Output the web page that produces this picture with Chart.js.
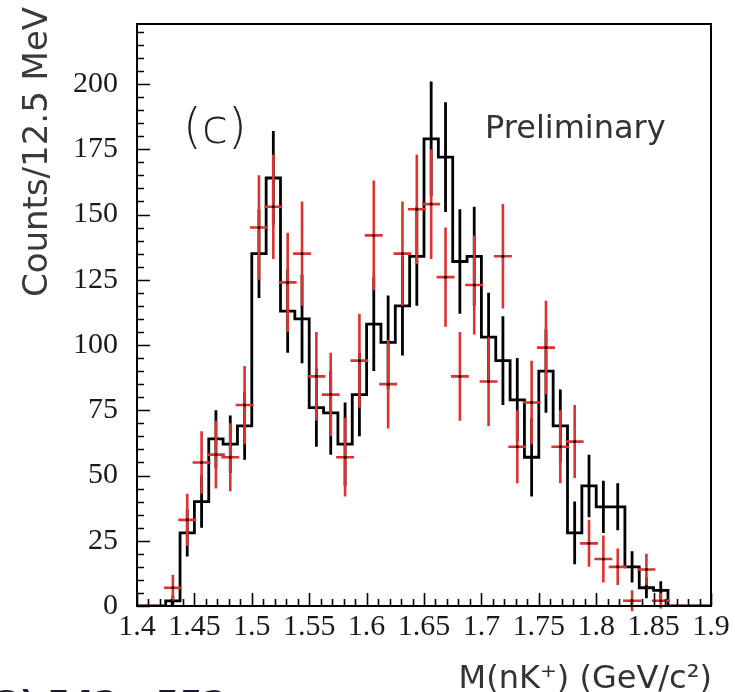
<!DOCTYPE html>
<html>
<head>
<meta charset="utf-8">
<script src="https://cdn.jsdelivr.net/npm/chart.js@4.4.1/dist/chart.umd.min.js"></script>
<style>
  html, body { margin: 0; padding: 0; background: #fff; }
  #wrap { width: 735px; height: 692px; }
</style>
</head>
<body>
<div id="wrap"><canvas id="chart" width="735" height="692"></canvas></div>
<script>
// M(nK+) histogram, 40 bins of 12.5 MeV from 1.4 to 1.9 GeV
const binStart = 1.4;
const binWidth = 0.0125;
const crossHalfWidth = 0.0078;

const blackCounts = [0, 0, 2, 28, 40, 64, 62, 69, 135, 164,
    113, 110, 76, 74, 62, 81, 108, 101, 115, 134,
    179, 172, 132, 134, 103, 94, 79, 57, 90, 69,
    28, 46, 38, 38, 15, 7, 6, 0, 0, 0];
const blackErrors = [0, 0, 2, 9, 10, 11, 11, 13, 17, 18,
    16, 17, 15, 16, 16, 16, 18, 18, 19, 19,
    22, 21, 20, 19, 17, 17, 16, 15, 16, 14,
    12, 12, 10, 9, 6, 4, 3.5, 0, 0, 0];

const redCounts = [0, 0, 7, 33, 55, 58, 57, 77, 145, 153,
    124, 135, 88, 81, 57, 94, 142, 85, 135, 152,
    154, 126, 88, 123, 86, 134, 61, 78, 99, 61,
    63, 24, 18, 15, 2, 14, 2, 0, 0, 0];
const redErrors = [0, 0, 5, 10, 12, 13, 13, 15, 20, 20,
    19, 20, 17, 16, 15, 18, 21, 17, 20, 21,
    21, 19, 17, 19, 17, 20, 14, 16, 18, 14,
    14, 9, 9, 7, 4, 6, 3, 0, 0, 0];

const xTicks = [1.4, 1.45, 1.5, 1.55, 1.6, 1.65, 1.7, 1.75, 1.8, 1.85, 1.9];
const yTicks = [0, 25, 50, 75, 100, 125, 150, 175, 200];

const RED = '#dc3232';

function binLo(i) { return +(binStart + i * binWidth).toFixed(5); }
function binMid(i) { return +(binStart + (i + 0.5) * binWidth).toFixed(5); }

// step outline: left edge of each bin, then closing point at 1.9
const histPts = blackCounts.map(function (v, i) { return { x: binLo(i), y: v }; });
histPts.push({ x: binLo(blackCounts.length), y: blackCounts[blackCounts.length - 1] });

function vBars(vals, errs) {
    const pts = [];
    vals.forEach(function (v, i) {
        if (!errs[i]) return;
        pts.push({ x: binMid(i), y: v - errs[i] });
        pts.push({ x: binMid(i), y: v + errs[i] });
        pts.push({ x: binMid(i), y: null });
    });
    return pts;
}

function hBars(vals, errs) {
    const pts = [];
    vals.forEach(function (v, i) {
        // empty bins: plain line across the bin, others: cross arm
        const lo = errs[i] ? binMid(i) - crossHalfWidth : binLo(i);
        const hi = errs[i] ? binMid(i) + crossHalfWidth : binLo(i + 1);
        pts.push({ x: lo, y: v });
        pts.push({ x: hi, y: v });
        pts.push({ x: binMid(i), y: null });
    });
    return pts;
}

const redCentres = [];
redCounts.forEach(function (v, i) {
    if (redErrors[i]) redCentres.push({ x: binMid(i), y: v });
});

const frame = {
    id: 'frame',
    afterDraw: function (chart) {
        const ctx = chart.ctx;
        const a = chart.chartArea;
        const xs = chart.scales.x, ys = chart.scales.y;
        ctx.save();
        ctx.strokeStyle = '#000';
        ctx.lineWidth = 2;
        ctx.strokeRect(a.left, a.top, a.right - a.left, a.bottom - a.top);

        // inner tick marks
        ctx.lineWidth = 1.6;
        ctx.beginPath();
        for (let v = 0; v <= 220; v += 5) {
            const py = Math.round(ys.getPixelForValue(v)) + 0.5;
            const len = v % 25 === 0 ? 13 : 7;
            ctx.moveTo(a.left, py);
            ctx.lineTo(a.left + len, py);
        }
        for (let k = 0; k <= 50; k++) {
            const px = Math.round(xs.getPixelForValue(1.4 + k * 0.01)) + 0.5;
            const len = k % 5 === 0 ? 13 : 7;
            ctx.moveTo(px, a.bottom);
            ctx.lineTo(px, a.bottom - len);
        }
        ctx.stroke();

        // labels
        ctx.fillStyle = '#222';
        ctx.font = '300 48px "DejaVu Sans"';
        ctx.textAlign = 'left';
        ctx.textBaseline = 'alphabetic';
        ctx.fillText('(c)', 183, 143);

        ctx.fillStyle = '#333';
        ctx.font = '32px "DejaVu Sans"';
        ctx.fillText('Preliminary', 485, 138);

        ctx.fillStyle = '#333';
        ctx.font = '32px "DejaVu Sans"';
        ctx.textAlign = 'right';
        ctx.fillText('M(nK\u207A) (GeV/c\u00B2)', 712, 688);

        ctx.fillStyle = '#1b1b2e';
        ctx.font = 'bold 34px "DejaVu Sans"';
        ctx.textAlign = 'left';
        ctx.fillText('3) 542 - 552', -4, 715);

        ctx.save();
        ctx.translate(47, 152);
        ctx.rotate(-Math.PI / 2);
        ctx.fillStyle = '#3a3a3a';
        ctx.font = '34px "DejaVu Sans"';
        ctx.textAlign = 'center';
        ctx.fillText('Counts/12.5 MeV', 0, 0);
        ctx.restore();

        ctx.restore();
    }
};

new Chart(document.getElementById('chart'), {
    type: 'line',
    data: {
        datasets: [
            {
                data: redCentres,
                showLine: false,
                pointRadius: 1.5,
                pointBackgroundColor: '#000',
                pointBorderWidth: 0,
                order: 0
            },
            {
                data: hBars(redCounts, redErrors),
                borderColor: RED,
                borderWidth: 2.6,
                pointRadius: 0,
                spanGaps: false,
                order: 1
            },
            {
                data: vBars(redCounts, redErrors),
                borderColor: RED,
                borderWidth: 2.6,
                pointRadius: 0,
                spanGaps: false,
                clip: 6,
                order: 2
            },
            {
                data: vBars(blackCounts, blackErrors),
                borderColor: '#000',
                borderWidth: 2.8,
                pointRadius: 0,
                spanGaps: false,
                order: 3
            },
            {
                data: histPts,
                stepped: true,
                borderColor: '#000',
                borderWidth: 2.8,
                pointRadius: 0,
                order: 4
            }
        ]
    },
    options: {
        responsive: false,
        animation: false,
        layout: { padding: { top: 24, right: 24, left: 0, bottom: 0 } },
        plugins: {
            legend: { display: false },
            tooltip: { enabled: false }
        },
        scales: {
            x: {
                type: 'linear',
                min: 1.4,
                max: 1.9,
                grid: { display: false, drawTicks: false },
                border: { display: false },
                afterBuildTicks: function (s) { s.ticks = xTicks.map(function (v) { return { value: v }; }); },
                afterFit: function (s) { s.height = 86; s.paddingLeft = 0; s.paddingRight = 0; },
                ticks: {
                    padding: 3,
                    maxRotation: 0,
                    autoSkip: false,
                    color: '#1a1a1a',
                    font: { family: '"Liberation Serif"', size: 30 },
                    callback: function (v) { return String(+v.toFixed(2)); }
                }
            },
            y: {
                min: 0,
                max: 223,
                grid: { display: false, drawTicks: false },
                border: { display: false },
                afterBuildTicks: function (s) { s.ticks = yTicks.map(function (v) { return { value: v }; }); },
                afterFit: function (s) { s.width = 137; s.paddingTop = 0; s.paddingBottom = 0; },
                ticks: {
                    padding: 19,
                    autoSkip: false,
                    color: '#1a1a1a',
                    font: { family: '"Liberation Serif"', size: 30 },
                    callback: function (v) { return String(v); }
                }
            }
        }
    },
    plugins: [frame]
});
</script>
</body>
</html>
